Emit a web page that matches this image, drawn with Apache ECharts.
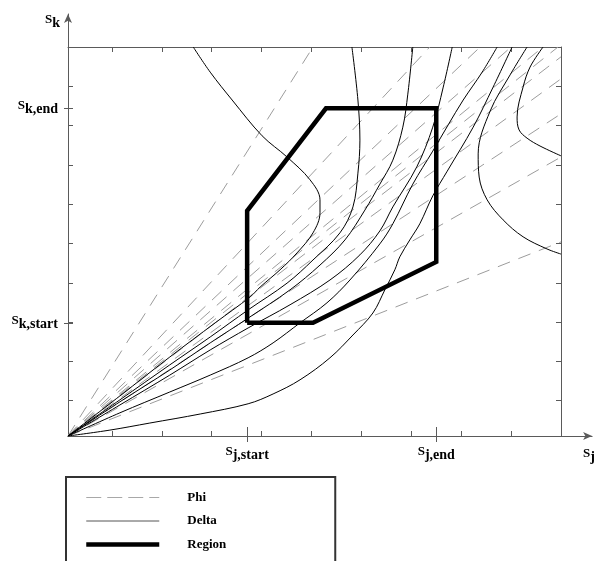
<!DOCTYPE html>
<html><head><meta charset="utf-8">
<script src="https://cdn.jsdelivr.net/npm/echarts@6/dist/echarts.min.js"></script>
<style>html,body{margin:0;padding:0;background:#fff}#c{width:598px;height:561px}</style>
</head><body><div id="c"></div>
<script>
// ---- axis ranges & ticks ----
const X_MIN = 0.12, X_MAX = 10, Y_MIN = 0.1, Y_MAX = 10;
const xTicks = [1, 2, 3, 4, 5, 6, 7, 8, 9, 10];
const yTicks = [1, 2, 3, 4, 5, 6, 7, 8, 9];
const xMarks = [3.71, 7.5];
const xMarkLabels = ['j,start', 'j,end'];
const yMarks = [2.98, 8.44];
const yMarkLabels = ['k,start', 'k,end'];

// ---- Phi: dashed rays from the origin ----
const phiOrigin = [0.12, 0.10];
const phiEnds = [[5.03, 10], [7.37, 10], [8.38, 10], [9.00, 10], [9.64, 10], [9.94, 10],
                 [10, 9.75], [10, 9.19], [10, 8.30], [10, 7.20], [10, 5.04]];

// ---- Delta: solid curves ----
const delta1 = [[0.12,0.10],[1.16,1.12],[2.16,2.11],[3.07,2.98],[3.77,3.64],[3.97,3.89],[4.37,4.33],[4.71,4.76],[5.03,5.27],[5.17,5.78],[5.17,6.11],[4.97,6.62],[4.51,7.20],[4.01,7.74],[3.41,8.65],[2.97,9.36],[2.63,10.0]];
const delta2 = [[0.12,0.10],[1.16,1.02],[2.16,1.91],[2.97,2.62],[3.73,3.31],[4.51,3.99],[5.03,4.58],[5.57,5.27],[5.83,5.93],[5.93,6.79],[5.97,7.63],[5.93,8.65],[5.81,10.0]];
const delta3 = [[0.12,0.10],[1.16,0.97],[2.16,1.78],[2.97,2.47],[3.73,3.10],[4.57,3.82],[5.17,4.45],[5.67,5.09],[6.07,5.85],[6.37,6.51],[6.63,7.12],[6.83,7.96],[6.93,8.80],[7.03,10.0]];
const delta4 = [[0.12,0.10],[1.16,0.89],[2.16,1.65],[2.97,2.29],[3.73,2.85],[4.57,3.44],[5.37,4.07],[5.97,4.71],[6.37,5.32],[6.63,5.93],[7.11,6.95],[7.43,7.96],[7.64,8.98],[7.82,10.0]];
const delta5 = [[0.12,0.10],[1.16,0.69],[2.16,1.22],[2.97,1.65],[3.73,2.09],[4.23,2.47],[4.77,2.98],[5.31,3.49],[5.77,4.07],[6.37,4.99],[6.63,5.50],[7.03,6.51],[7.43,7.35],[7.74,8.02],[8.04,8.65],[8.42,9.36],[8.72,10.0]];
const delta6 = [[0.12,0.10],[0.96,0.25],[1.76,0.43],[2.77,0.66],[3.73,0.92],[4.23,1.17],[4.77,1.53],[5.37,2.09],[5.83,2.67],[6.23,3.23],[6.47,3.82],[6.67,4.33],[6.77,4.66],[6.97,5.09],[7.17,5.50],[7.43,6.21],[7.72,6.84],[8.24,7.96],[8.64,8.98],[9.02,10.0]];
const delta7 = [[9.32,10.0],[8.98,9.29],[8.58,8.37],[8.34,7.28],[8.36,6.69],[8.52,6.11],[8.84,5.60],[9.24,5.17],[9.72,4.86],[10.0,4.73]];
const delta8 = [[9.64,10.0],[9.38,9.49],[9.24,8.98],[9.12,8.22],[9.16,7.89],[9.32,7.68],[9.58,7.48],[10.0,7.23]];
const deltaCurves = [delta1, delta2, delta3, delta4, delta5, delta6, delta7, delta8];

// ---- Region polygon ----
const region = [[3.71,2.98],[5.03,2.98],[7.5,4.53],[7.5,8.44],[5.29,8.44],[3.71,5.83],[3.71,2.98]];

const FONT = 'Liberation Serif';
const AX = '#5a5a5a';
const RICH = {
  s:   {fontFamily: FONT, fontWeight: 'bold', fontSize: 13, lineHeight: 12, padding: [0, 0, 5, 0], color: '#000'},
  sub: {fontFamily: FONT, fontWeight: 'bold', fontSize: 14, lineHeight: 14, padding: [3, 0, 0, 0], color: '#000'}
};
function nearestLabel(v, marks, labels) {
  let bi = 0;
  marks.forEach((m, i) => { if (Math.abs(m - v) < Math.abs(marks[bi] - v)) bi = i; });
  return '{s|S}{sub|' + labels[bi] + '}';
}

const hiddenSymbol = {color: 'rgba(0,0,0,0)', opacity: 0, borderWidth: 0};
const series = [];
phiEnds.forEach(e => series.push({
  type: 'line', name: 'Phi', data: [phiOrigin, e], symbol: 'none', silent: true,
  itemStyle: {color: '#9c9c9c'},
  lineStyle: {color: '#9c9c9c', width: 1, type: [13, 9]}, z: 1
}));
deltaCurves.forEach(c => series.push({
  type: 'line', name: 'Delta', data: c, symbol: 'none', silent: true, smooth: 0.35,
  itemStyle: {color: '#000'},
  lineStyle: {color: '#000', width: 1}, z: 2
}));
series.push({
  type: 'line', name: 'Region', data: region, symbol: 'none', silent: true,
  itemStyle: {color: '#000'},
  lineStyle: {color: '#000', width: 4.5, join: 'miter'}, z: 3
});

const baseVal = {type: 'value', splitLine: {show: false}};
const option = {
  animation: false,
  backgroundColor: '#fff',
  grid: [
    {left: 68, top: 47, width: 493, height: 389},
    {left: 68, top: 14, right: 3, bottom: 125}
  ],
  xAxis: [
    Object.assign({}, baseVal, {gridIndex: 0, min: X_MIN, max: X_MAX, position: 'bottom',
      axisLine: {show: true, onZero: false, lineStyle: {color: AX, width: 1}},
      axisTick: {show: true, inside: true, length: 5, customValues: xTicks, lineStyle: {color: AX}},
      axisLabel: {show: false}}),
    Object.assign({}, baseVal, {gridIndex: 0, min: X_MIN, max: X_MAX, position: 'top',
      axisLine: {show: true, onZero: false, lineStyle: {color: AX, width: 1}},
      axisTick: {show: true, inside: true, length: 5, customValues: xTicks.slice(0, 9), lineStyle: {color: AX}},
      axisLabel: {show: false}}),
    Object.assign({}, baseVal, {gridIndex: 0, min: X_MIN, max: X_MAX, position: 'bottom',
      axisLine: {show: false, onZero: false},
      axisTick: {show: true, inside: false, length: 6, customValues: xMarks, lineStyle: {color: AX}},
      axisLabel: {show: true, customValues: xMarks, margin: 11,
        formatter: v => nearestLabel(v, xMarks, xMarkLabels), rich: RICH}}),
    Object.assign({}, baseVal, {gridIndex: 0, min: X_MIN, max: X_MAX, position: 'bottom',
      axisLine: {show: false, onZero: false},
      axisTick: {show: true, inside: true, length: 9, customValues: xMarks, lineStyle: {color: AX}},
      axisLabel: {show: false}}),
    Object.assign({}, baseVal, {gridIndex: 1, min: 0, max: 1, position: 'bottom',
      axisLine: {show: true, onZero: false, symbol: ['none', 'arrow'], symbolSize: [6, 9], lineStyle: {color: AX, width: 1}},
      axisTick: {show: false}, axisLabel: {show: false},
      name: '{s|S}{sub|j}', nameLocation: 'end', nameGap: -9,
      nameTextStyle: {align: 'left', verticalAlign: 'top', padding: [13, 0, 0, 0], rich: RICH}})
  ],
  yAxis: [
    Object.assign({}, baseVal, {gridIndex: 0, min: Y_MIN, max: Y_MAX, position: 'left',
      axisLine: {show: true, onZero: false, lineStyle: {color: AX, width: 1}},
      axisTick: {show: true, inside: true, length: 5, customValues: yTicks.concat(yMarks), lineStyle: {color: AX}},
      axisLabel: {show: false}}),
    Object.assign({}, baseVal, {gridIndex: 0, min: Y_MIN, max: Y_MAX, position: 'right',
      axisLine: {show: true, onZero: false, lineStyle: {color: AX, width: 1}},
      axisTick: {show: true, inside: true, length: 5, customValues: yTicks, lineStyle: {color: AX}},
      axisLabel: {show: false}}),
    Object.assign({}, baseVal, {gridIndex: 0, min: Y_MIN, max: Y_MAX, position: 'left',
      axisLine: {show: false, onZero: false},
      axisTick: {show: true, inside: false, length: 4, customValues: yMarks, lineStyle: {color: AX}},
      axisLabel: {show: true, customValues: yMarks, margin: 10,
        formatter: v => nearestLabel(v, yMarks, yMarkLabels), rich: RICH}}),
    Object.assign({}, baseVal, {gridIndex: 1, min: 0, max: 1, position: 'left',
      axisLine: {show: true, onZero: false, symbol: ['none', 'arrow'], symbolSize: [6, 9], lineStyle: {color: AX, width: 1}},
      axisTick: {show: false}, axisLabel: {show: false},
      name: '{s|S}{sub|k}', nameLocation: 'end', nameGap: -1,
      nameTextStyle: {align: 'right', verticalAlign: 'top', padding: [0, 8, 0, 0], rich: RICH}})
  ],
  legend: {
    data: [
      {name: 'Phi', itemStyle: hiddenSymbol, lineStyle: {color: '#a8a8a8', width: 1, type: [15, 6]}},
      {name: 'Delta', itemStyle: hiddenSymbol, lineStyle: {color: '#555', width: 1}},
      {name: 'Region', itemStyle: hiddenSymbol, lineStyle: {color: '#000', width: 4.5}}
    ],
    orient: 'vertical', left: 66, top: 477, height: 140,
    itemWidth: 73, itemHeight: 14, itemGap: 10.5,
    padding: [14, 109, 20, 18],
    borderColor: '#333', borderWidth: 2, backgroundColor: '#fff',
    selectedMode: false,
    textStyle: {fontFamily: FONT, fontWeight: 'bold', fontSize: 13, color: '#000', padding: [0, 0, 0, 23]}
  },
  series: series
};
const chart = echarts.init(document.getElementById('c'), null, {renderer: 'canvas'});
chart.setOption(option);
</script>
</body></html>
